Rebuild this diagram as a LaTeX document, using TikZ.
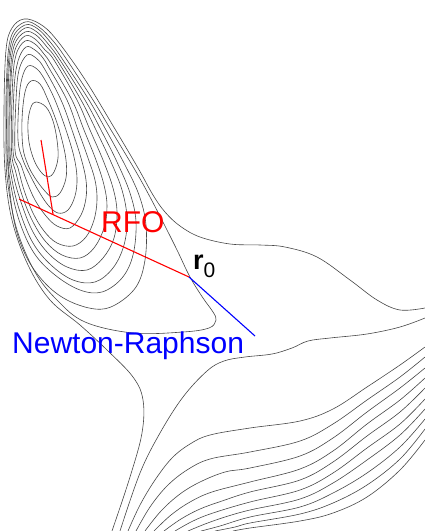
\documentclass[tikz,border=0pt]{standalone}
\usepackage{fontspec}
\setmainfont{Liberation Sans}
\begin{document}
\begin{tikzpicture}[x=1pt,y=-1pt,
  ct/.style={draw=black!72,line width=0.6pt},
  sc/.style={smooth cycle,tension=0.6},
  so/.style={smooth,tension=0.6},
  rfoline/.style={draw=red,line width=1.1pt},
  nrline/.style={draw=blue,line width=1.1pt},
  lbl/.style={inner sep=0pt,anchor=base west}]
\useasboundingbox (0,0) rectangle (425,531);
% ---------- well contours (closed) ----------
\draw[ct] plot[sc] coordinates {(36,102) (46,107) (53,121) (57,140) (58,158) (54,172) (48,177) (41,172) (34,160) (29,142) (28,122) (31,107)};
\draw[ct] plot[sc] coordinates {(31,81) (40,84) (48,100) (56,120) (62,140) (66,160) (66,178) (60,193) (52,197) (44,190) (35,178) (28,165) (23,148) (22,120) (25,92)};
\draw[ct] plot[sc] coordinates {(28,66) (37,69) (45,80) (55,100) (66,130) (74,157) (77,178) (75,196) (68,210) (58,213) (48,205) (38,190) (30,175) (23,160) (18,140) (19,100) (22,78)};
\draw[ct] plot[sc] coordinates {(27,55) (36,58) (44,68) (61,100) (72,130) (81,158) (86,180) (86,198) (81,215) (70,228) (57,226) (46,216) (35,200) (27,182) (21,165) (15,150) (16,100) (19,70)};
\draw[ct] plot[sc] coordinates {(26,47) (35,50) (43,58) (49,68) (67,100) (78,130) (88,158) (95,180) (97,200) (94,220) (86,237) (73,246) (57,243) (44,231) (33,213) (24,190) (18,168) (13,150) (14,90) (18,61)};
\draw[ct] plot[sc] coordinates {(25,41) (35,44) (44,54) (51,64) (72,100) (84,130) (96,160) (104,185) (107,206) (104,228) (94,248) (80,258) (62,255) (46,242) (33,222) (23,198) (16,173) (11.5,150) (12.5,85) (16,55)};
\draw[ct] plot[sc] coordinates {(25,36) (35,39) (45,50) (54,60) (77,100) (90,130) (103,160) (113,188) (117,212) (114,238) (103,258) (87,270) (67,267) (48,253) (33,232) (22,205) (14,178) (10,150) (11,80) (15,50)};
\draw[ct] plot[sc] coordinates {(25,32) (36,35) (47,47) (57,60) (81,100) (96,130) (111,162) (122,190) (127,218) (124,245) (113,268) (95,282) (73,280) (51,265) (33,243) (20,212) (12,180) (9,150) (10,80) (14,46)};
\draw[ct] plot[sc] coordinates {(25,28) (37,32) (49,45) (60,60) (85,100) (101,130) (117,162) (130,193) (136,222) (133,255) (122,278) (102,292) (80,290) (55,275) (34,253) (19,220) (10,180) (8,150) (8.5,80) (13,43)};
\draw[ct] plot[sc] coordinates {(25,25) (38,29) (51,43) (63,60) (89,100) (106,130) (125,165) (139,195) (146,225) (145,260) (136,287) (115,305) (95,309) (67,300) (44,282) (25,254) (13,215) (7,150) (7.5,80) (12,40)};
\draw[ct] plot[sc] coordinates {(25,22) (39,27) (54,42) (67,60) (93,100) (111,130) (135,170) (150,197) (166,228) (178,252) (190,277) (203,298) (213,312) (216,320) (209,328) (183,332) (133,333) (85,322) (57,300) (35,272) (17,230) (8,185) (6,150) (6.5,80) (11,37)};
% ---------- open contours ----------
\draw[ct] plot[so] coordinates {(112,531) (130,477) (142,433) (143,400) (133,377) (107,350) (80,325) (50,300) (28,265) (12,220) (5,170) (4,110) (6,50) (12,28) (24,19) (40,24) (56,39) (84,78) (112,124) (138,168) (153,195) (165,212) (180,226) (200,237) (230,244) (260,245) (285,247) (317,257) (350,280) (377,300) (400,310) (425,308)};
\draw[ct] plot[so] coordinates {(425,318) (400,327) (367,334) (330,338) (308,341) (292,348) (272,354) (245,357) (224,361) (207,371) (183,397) (160,433) (140,473) (120,531)};
% ---------- fan ----------
\draw[ct] plot[so] coordinates {(128,531) (140,505) (155,480) (172,458) (190,444) (210,435) (250,428) (300,421) (333,409) (367,387) (400,365) (425,347)};
\draw[ct] plot[so] coordinates {(136,531) (150,507) (167,486) (187,470) (210,459) (250,452) (300,441) (333,424) (367,400) (400,377) (425,357)};
\draw[ct] plot[so] coordinates {(145,531) (161,511) (180,494) (200,482) (225,472) (250,468) (300,456) (333,438) (367,412) (400,388) (425,368)};
\draw[ct] plot[so] coordinates {(154,531) (171,515) (190,502) (212,492) (250,482) (300,469) (333,451) (367,424) (400,400) (425,378)};
\draw[ct] plot[so] coordinates {(164,531) (181,519) (200,509) (222,501) (250,492) (300,480) (333,462) (367,436) (400,412) (425,388)};
\draw[ct] plot[so] coordinates {(175,531) (193,521) (213,513) (250,502) (300,490) (333,473) (367,448) (400,424) (425,399)};
\draw[ct] plot[so] coordinates {(188,531) (205,524) (225,517) (250,510) (300,499) (333,483) (367,460) (400,435) (425,409)};
\draw[ct] plot[so] coordinates {(201,531) (220,526) (250,517) (300,507) (333,493) (367,473) (400,447) (425,419)};
\draw[ct] plot[so] coordinates {(215,531) (235,527) (250,523) (300,514) (333,503) (367,485) (400,459) (425,429)};
\draw[ct] plot[so] coordinates {(233,531) (250,528) (300,521) (333,513) (367,497) (400,470) (425,440)};
% ---------- steps ----------
\coordinate (r0) at (189,277);
\coordinate (rs) at (19,199);
\coordinate (mn) at (41,140);
\coordinate (jn) at (53,214);
\coordinate (ne) at (255,336);
\draw[rfoline] (rs) -- (r0);
\draw[rfoline] (mn) -- (jn);
\draw[nrline] (r0) -- (ne);
% ---------- labels ----------
\node[lbl,text=red,font=\fontsize{30}{30}\selectfont] (rfo) at (101,232) {RFO};
\node[lbl,text=blue,font=\fontsize{30}{30}\selectfont] (nrt) at (12,353) {Newton-Raphson};
\node[lbl] (r0lbl) at (193,269) {{\fontsize{27}{27}\selectfont\bfseries r}\raisebox{-8pt}{\fontsize{21}{21}\selectfont 0}};
\end{tikzpicture}
\end{document}
